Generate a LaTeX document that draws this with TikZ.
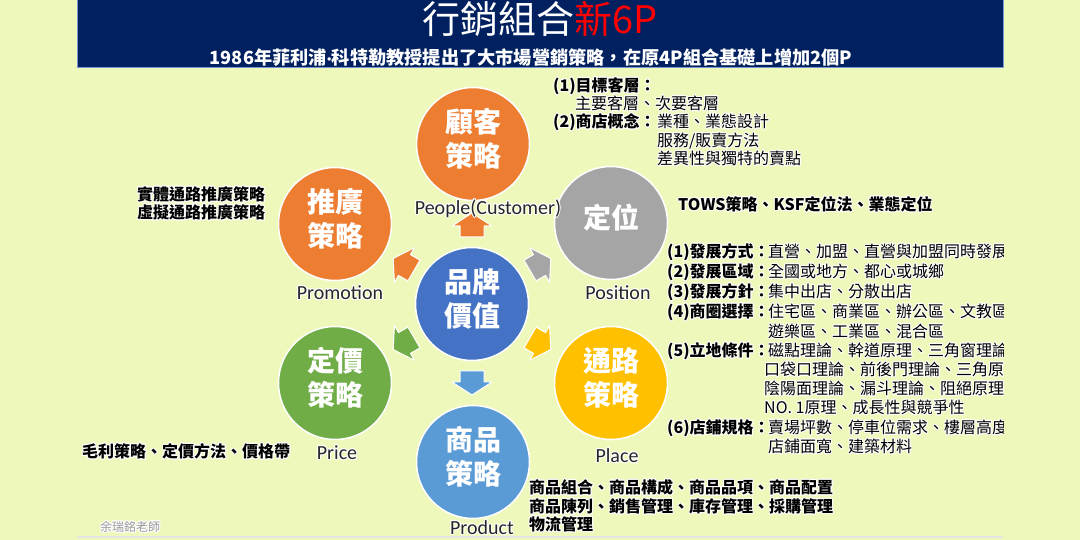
\documentclass[tikz,border=0pt]{standalone}
\usepackage{fontspec}
\setmainfont{Noto Sans CJK TC}
\newfontfamily\enfont{Carlito}
\usepackage[copies]{contour}
\contourlength{0.9pt}

\definecolor{bgyellow}{RGB}{239,248,187}
\definecolor{navy}{RGB}{0,32,96}
\definecolor{titleedge}{RGB}{120,150,210}
\definecolor{pptorange}{RGB}{237,125,49}
\definecolor{pptgray}{RGB}{165,165,165}
\definecolor{pptgold}{RGB}{255,192,0}
\definecolor{pptsky}{RGB}{91,155,213}
\definecolor{pptgreen}{RGB}{112,173,71}
\definecolor{pptblue}{RGB}{68,114,196}
\definecolor{linegray}{RGB}{228,228,228}

\newcommand{\glow}[1]{\contour{white}{#1}}
\newcommand{\lbl}[2]{\makebox[#1][l]{\textbf{#2}}}

\begin{document}
\begin{tikzpicture}[
	x=1pt, y=1pt,
	line join=round,
	bigcirc/.style={circle, draw=white, line width=1.5pt, minimum size=113pt, inner sep=0pt},
	ctext/.style={text=white, align=center, font=\bfseries\fontsize{28}{34}\selectfont},
	enlabel/.style={text=black!85, font=\enfont\fontsize{20}{24}\selectfont},
	note/.style={anchor=west, inner sep=0pt, text height=13.5pt, text depth=2.5pt, font=\fontsize{16}{19}\selectfont},
	parrow/.pic={
		\path[pic actions] (67,-12) -- (78,-12) -- (78,-20) -- (91,0)
		-- (78,20) -- (78,12) -- (67,12) -- cycle;
	}
	]
	% Nền
	\clip (0,0) rectangle (1080,540);
	\fill[bgyellow] (0,0) rectangle (1080,540);
	
	% Thanh tiêu đề
	\filldraw[fill=navy, draw=titleedge, line width=1pt] (77,472) rectangle (1003,545);
	\node[anchor=base, text=white, font=\fontsize{38}{38}\selectfont] (title) at (540,506)
	{行銷組合\textcolor{red}{新6P}};
	\node[anchor=base, text=white, font=\bfseries\fontsize{18.2}{20}\selectfont] (subtitle) at (531,475)
	{1986年菲利浦{\enfont\bfseries ·}科特勒教授提出了大市場營銷策略，在原4P組合基礎上增加2個P};
	
	% Tâm các hình tròn
	\coordinate (brand) at (472,236);
	\coordinate (C1) at (473,396);
	\coordinate (C2) at (611,317);
	\coordinate (C3) at (611,157);
	\coordinate (C4) at (473,78);
	\coordinate (C5) at (335,157);
	\coordinate (C6) at (335,316);
	
	% Mũi tên từ tâm ra ngoài
	\pic[fill=pptorange, draw=white, line width=1pt, rotate=90] at (brand) {parrow};
	\pic[fill=pptgray, draw=white, line width=1pt, rotate=30] at (brand) {parrow};
	\pic[fill=pptgold, draw=white, line width=1pt, rotate=-30] at (brand) {parrow};
	\pic[fill=pptsky, draw=white, line width=1pt, rotate=-90] at (brand) {parrow};
	\pic[fill=pptgreen, draw=white, line width=1pt, rotate=-150] at (brand) {parrow};
	\pic[fill=pptorange, draw=white, line width=1pt, rotate=150] at (brand) {parrow};
	
	% Các hình tròn
	\node[bigcirc, fill=pptblue] (core) at (brand) {};
	\node[bigcirc, fill=pptorange] (cust) at (C1) {};
	\node[bigcirc, fill=pptgray] (pos) at (C2) {};
	\node[bigcirc, fill=pptgold] (place) at (C3) {};
	\node[bigcirc, fill=pptsky] (prod) at (C4) {};
	\node[bigcirc, fill=pptgreen] (price) at (C5) {};
	\node[bigcirc, fill=pptorange] (promo) at (C6) {};
	
	\node[ctext] (coretxt) at ([yshift=5]core) {品牌\\價值};
	\node[ctext] (custtxt) at ([yshift=5]cust) {顧客\\策略};
	\node[ctext] (postxt) at ([yshift=5]pos) {定位};
	\node[ctext] (placetxt) at ([yshift=5]place) {通路\\策略};
	\node[ctext] (prodtxt) at ([yshift=5]prod) {商品\\策略};
	\node[ctext] (pricetxt) at ([yshift=5]price) {定價\\策略};
	\node[ctext] (promotxt) at ([yshift=5]promo) {推廣\\策略};
	
	% Nhãn tiếng Anh
	\node[enlabel] (lcust) at (488,331) {\glow{People(Customer)}};
	\node[enlabel] (lpos) at (618,247) {\glow{Position}};
	\node[enlabel] (lplace) at (617,84) {\glow{Place}};
	\node[enlabel] (lprod) at (482,12) {\glow{Product}};
	\node[enlabel] (lprice) at (337,87) {\glow{Price}};
	\node[enlabel] (lpromo) at (340,247) {\glow{Promotion}};
	
	% Ghi chú khách hàng
	\node[note] (c1) at (553,454) {\glow{\textbf{(1)目標客層：}}};
	\node[note] (c2) at (575,436) {\glow{主要客層、次要客層}};
	\node[note] (c3) at (553,418) {\glow{\lbl{104pt}{(2)商店概念：}業種、業態設計}};
	\node[note] (c4) at (657,399) {\glow{服務/販賣方法}};
	\node[note] (c5) at (657,381) {\glow{差異性與獨特的賣點}};
	
	% Ghi chú định vị
	\node[note] (tows) at (678,335) {\glow{\textbf{TOWS策略、KSF定位法、業態定位}}};
	
	% Ghi chú kênh phân phối (bị cắt ở mép phải)
	\begin{scope}
		\clip (660,80) rectangle (1003,300);
		\node[note] (p1) at (667,288) {\glow{\lbl{101pt}{(1)發展方式：}直營、加盟、直營與加盟同時發展}};
		\node[note] (p2) at (667,268) {\glow{\lbl{101pt}{(2)發展區域：}全國或地方、都心或城鄉}};
		\node[note] (p3) at (667,248) {\glow{\lbl{101pt}{(3)發展方針：}集中出店、分散出店}};
		\node[note] (p4) at (667,228) {\glow{\lbl{101pt}{(4)商圈選擇：}住宅區、商業區、辦公區、文教區}};
		\node[note] (p4b) at (768,208) {\glow{遊樂區、工業區、混合區}};
		\node[note] (p5) at (667,189) {\glow{\lbl{101pt}{(5)立地條件：}磁點理論、幹道原理、三角窗理論}};
		\node[note] (p5b) at (764,170) {\glow{口袋口理論、前後門理論、三角原理}};
		\node[note] (p5c) at (764,151) {\glow{陰陽面理論、漏斗理論、阻絕原理}};
		\node[note] (p5d) at (764,132) {\glow{NO. 1原理、成長性與競爭性}};
		\node[note] (p6) at (667,112) {\glow{\lbl{101pt}{(6)店鋪規格：}賣場坪數、停車位需求、樓層高度}};
		\node[note] (p6b) at (768,93) {\glow{店鋪面寬、建築材料}};
	\end{scope}
	
	% Ghi chú xúc tiến và giá
	\node[note] (m1) at (137,345) {\glow{\textbf{實體通路推廣策略}}};
	\node[note] (m2) at (137,327) {\glow{\textbf{虛擬通路推廣策略}}};
	\node[note] (pr1) at (82,88) {\glow{\textbf{毛利策略、定價方法、價格帶}}};
	
	% Ghi chú sản phẩm
	\node[note] (g1) at (529,52) {\glow{\textbf{商品組合、商品構成、商品品項、商品配置}}};
	\node[note] (g2) at (529,33) {\glow{\textbf{商品陳列、銷售管理、庫存管理、採購管理}}};
	\node[note] (g3) at (529,15) {\glow{\textbf{物流管理}}};
	
	% Chân trang
	\draw[linegray, line width=2pt] (77,3) -- (1003,3);
	\node[note, text=black!40, font=\fontsize{12}{14}\selectfont] (author) at (100,14) {\glow{余瑞銘老師}};
	
\end{tikzpicture}
\end{document}
